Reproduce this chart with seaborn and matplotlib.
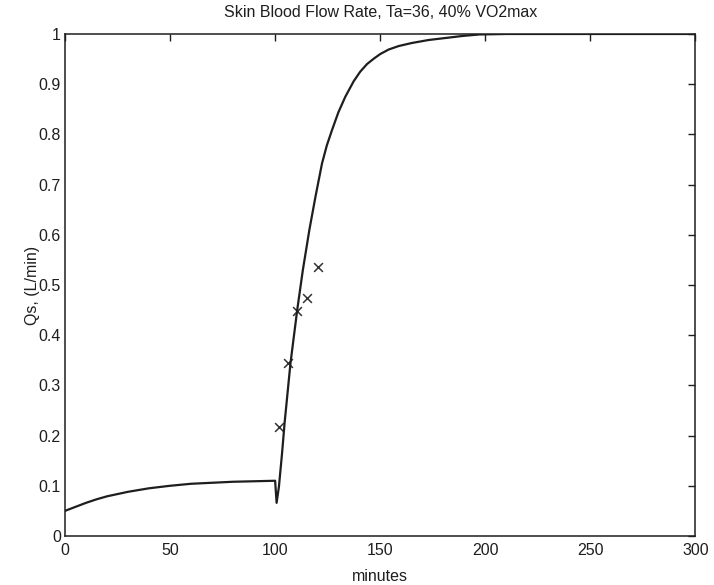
import matplotlib
matplotlib.use("Agg")
import matplotlib.pyplot as plt
import seaborn as sns
import pandas as pd

# Simulated skin blood flow (minutes, L/min)
sim_minutes = [0, 5, 10, 15, 20, 30, 40, 50, 60, 70, 80, 90, 100, 100.7, 101.8,
               103.3, 104.5, 107.3, 110.5, 113.2, 116.3, 119.2, 122.3, 124.6,
               127.1, 130.1, 133.4, 137.4, 140.5, 143.7, 147, 150, 154, 158.8,
               165, 173, 181, 189, 197, 210, 250, 300]
sim_qs = [0.050, 0.058, 0.066, 0.073, 0.079, 0.088, 0.095, 0.100, 0.104, 0.106,
          0.108, 0.109, 0.110, 0.066, 0.098, 0.165, 0.225, 0.344, 0.450, 0.530,
          0.610, 0.676, 0.742, 0.778, 0.809, 0.844, 0.875, 0.906, 0.925, 0.940,
          0.951, 0.960, 0.969, 0.976, 0.982, 0.988, 0.992, 0.996, 0.999, 1.0,
          1.0, 1.0]

# Measured values
obs_minutes = [101.8, 106.2, 110.4, 115.2, 120.5]
obs_qs = [0.218, 0.344, 0.448, 0.475, 0.536]

x_ticks = [0, 50, 100, 150, 200, 250, 300]
y_ticks = [0, 0.1, 0.2, 0.3, 0.4, 0.5, 0.6, 0.7, 0.8, 0.9, 1]
y_tick_labels = ["0", "0.1", "0.2", "0.3", "0.4", "0.5", "0.6", "0.7", "0.8", "0.9", "1"]
x_tick_labels = ["0", "50", "100", "150", "200", "250", "300"]

sns.set_style("white")
plt.rcParams["font.family"] = ["Liberation Sans", "DejaVu Sans"]

sim = pd.DataFrame({"minutes": sim_minutes, "Qs": sim_qs})
obs = pd.DataFrame({"minutes": obs_minutes, "Qs": obs_qs})

ink = "#1e1e1e"
fig = plt.figure(figsize=(7.14, 5.85), dpi=100)
ax = fig.add_axes([0.0910, 0.0838, 0.8830, 0.8581])

sns.lineplot(data=sim, x="minutes", y="Qs", ax=ax, color=ink, linewidth=1.6,
             sort=False, estimator=None)
sns.scatterplot(data=obs, x="minutes", y="Qs", ax=ax, marker="x", color="#333333",
                s=40, linewidth=1.1)

ax.set_xlim(0, 300)
ax.set_ylim(0, 1)
ax.set_xticks(x_ticks)
ax.set_xticklabels(x_tick_labels)
ax.set_yticks(y_ticks)
ax.set_yticklabels(y_tick_labels)
ax.tick_params(direction="in", length=5, width=1, colors=ink, labelsize=11.5,
               top=True, right=True, pad=3)
ax.tick_params(axis="x", pad=5)
for side in ax.spines.values():
    side.set_color(ink)
    side.set_linewidth(1.1)

ax.set_title("Skin Blood Flow Rate, Ta=36, 40% VO2max", fontsize=11.5, color=ink, pad=12)
ax.set_xlabel("minutes", fontsize=11.5, color=ink, labelpad=8)
ax.set_ylabel("Qs, (L/min)", fontsize=11.5, color=ink)
ax.yaxis.set_label_coords(-0.040, 0.5)

fig.savefig("out.png", dpi=100, facecolor="white")
